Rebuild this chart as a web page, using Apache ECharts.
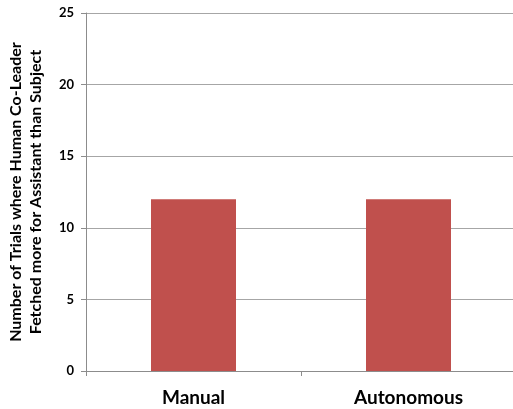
<!DOCTYPE html>
<html>
<head>
<meta charset="utf-8">
<script src="https://cdn.jsdelivr.net/npm/echarts@6/dist/echarts.min.js"></script>
<style>
  html, body { margin: 0; padding: 0; background: #fff; }
  #chart { width: 513px; height: 409px; }
</style>
</head>
<body>
<div id="chart"></div>
<script>
// Trials per condition where the human co-leader fetched more for the assistant
const categories = ['Manual', 'Autonomous'];
const trialCounts = [12, 12];
const yTicks = [0, 5, 10, 15, 20, 25];
const yAxisTitle = 'Number of Trials where Human Co-Leader\nFetched more for Assistant than Subject';

const chart = echarts.init(document.getElementById('chart'));
chart.setOption({
  animation: false,
  grid: { left: 86, right: -3, top: 13, bottom: 38, outerBoundsMode: 'none', containLabel: false },
  xAxis: {
    type: 'category',
    data: categories,
    axisLine: { lineStyle: { color: '#8c8c8c', width: 1 } },
    axisTick: { show: true, alignWithLabel: false, length: 5, lineStyle: { color: '#8c8c8c' } },
    axisLabel: {
      color: '#000', fontFamily: 'Lato', fontWeight: 'bold', fontSize: 19, margin: 17
    }
  },
  yAxis: {
    type: 'value',
    min: yTicks[0],
    max: yTicks[yTicks.length - 1],
    interval: 5,
    name: yAxisTitle,
    nameLocation: 'middle',
    nameGap: 40,
    nameRotate: 90,
    nameTextStyle: {
      color: '#000', fontFamily: 'Lato', fontWeight: 'bold', fontSize: 16, lineHeight: 20
    },
    axisLine: { show: true, lineStyle: { color: '#8c8c8c', width: 1 } },
    axisTick: { show: true, length: 5, lineStyle: { color: '#8c8c8c' } },
    axisLabel: {
      color: '#000', fontFamily: 'Lato', fontWeight: 'bold', fontSize: 13, margin: 12
    },
    splitLine: { show: true, lineStyle: { color: '#a6a6a6', width: 1 } }
  },
  series: [{
    type: 'bar',
    data: trialCounts,
    barWidth: 85,
    itemStyle: { color: '#c0504d' }
  }]
});
</script>
</body>
</html>
